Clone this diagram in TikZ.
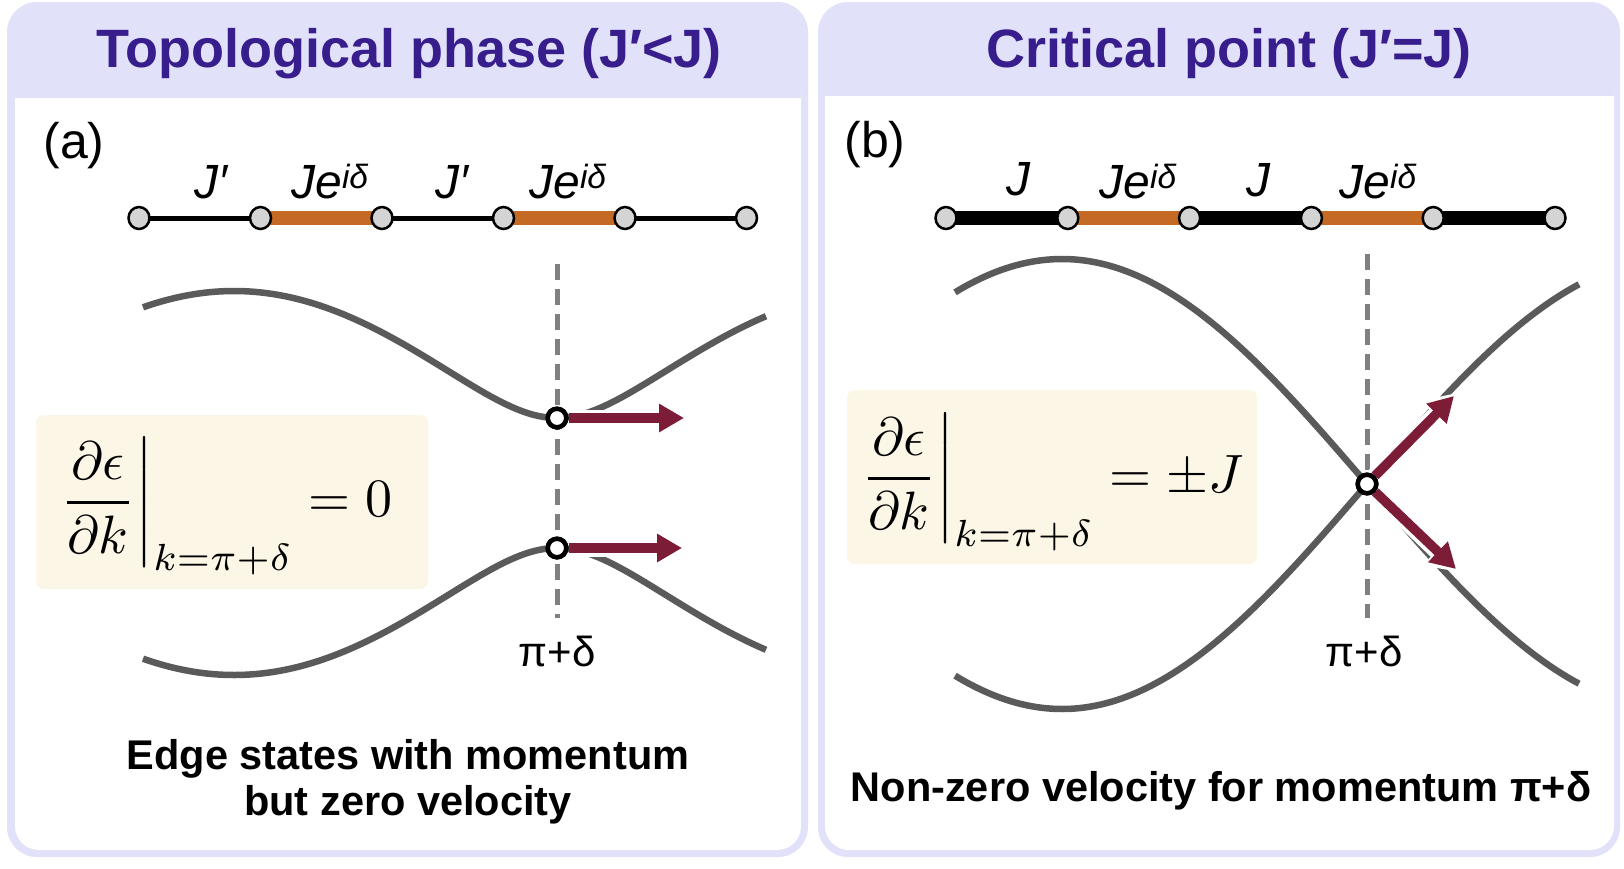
\documentclass[tikz,border=0pt]{standalone}
\usepackage{graphicx}
\usepackage[no-math]{fontspec}
\setmainfont{Liberation Sans}
\usetikzlibrary{arrows.meta,shapes.geometric}
\definecolor{lav}{RGB}{225,225,250}
\definecolor{titlec}{RGB}{55,30,140}
\definecolor{cream}{RGB}{251,246,230}
\definecolor{bondor}{RGB}{196,106,36}
\definecolor{arrred}{RGB}{125,28,55}
\definecolor{bandg}{RGB}{90,90,90}
\definecolor{dashg}{RGB}{128,128,128}
\definecolor{siteg}{RGB}{212,212,212}
\pgfdeclarelayer{panel}
\pgfdeclarelayer{bonds}
\pgfsetlayers{panel,bonds,main}
\begin{document}
\begin{tikzpicture}[x=1pt,y=-1pt,
  site/.style={ellipse, draw=black, line width=2.5pt, fill=siteg, minimum width=21pt, minimum height=22pt, inner sep=0pt},
  marker/.style={circle, draw=black, line width=4.5pt, fill=white, minimum size=18.5pt, inner sep=0pt},
  thinbond/.style={line width=5pt, black},
  thickbond/.style={line width=14pt, black},
  orbond/.style={line width=14pt, bondor},
  band/.style={line width=6.5pt, bandg},
  kline/.style={line width=5pt, dashg, dash pattern=on 16pt off 9pt},
  vel/.style={line width=9.5pt, arrred, -{Triangle[length=25pt,width=27pt]}},
  velwhite/.style={line width=17pt, white, -{Triangle[length=31pt,width=39pt]}},
  titletext/.style={font={\fontsize{54}{60}\selectfont\bfseries}, text=titlec, anchor=base, inner sep=0pt},
  panellab/.style={font={\fontsize{50}{56}\selectfont}, anchor=center, inner sep=0pt},
  hop/.style={font={\fontsize{48}{54}\selectfont\itshape}, anchor=base, inner sep=0pt},
  kmark/.style={font={\fontsize{42}{48}\selectfont}, anchor=base, inner sep=0pt},
  captext/.style={font={\fontsize{41.5}{46}\selectfont\bfseries}, anchor=base, inner sep=0pt},
  formbox/.style={fill=cream, rounded corners=8pt},
  formula/.style={anchor=base west, inner sep=0pt}
]
\useasboundingbox (0,0) rectangle (1624,868);

% ---------- panels ----------
\begin{pgfonlayer}{panel}
  \fill[white] (0,0) rectangle (1624,868);
  \fill[lav, rounded corners=30pt] (7,2) rectangle (808,857);
  \fill[white, rounded corners=24pt] (15,60) rectangle (801,850);
  \fill[lav] (15,59) rectangle (801,98);
  \fill[lav, rounded corners=30pt] (818,2) rectangle (1620,857);
  \fill[white, rounded corners=24pt] (825,60) rectangle (1614,850);
  \fill[lav] (825,59) rectangle (1614,96);
\end{pgfonlayer}

\node[titletext] (ta) at (409,67) {Topological phase (J′<J)};
\node[titletext] (tb) at (1229,67) {Critical point (J′=J)};

\node[panellab] (pa) at (74,146) {(a)};
\node[panellab] (pb) at (875,145) {(b)};

% ---------- chain (a) ----------
\foreach \i in {0,...,5} {
  \node[site] (a\i) at ({139+121.5*\i},218) {};
}
\begin{pgfonlayer}{bonds}
  \draw[thinbond] (a0.center) -- (a1.center);
  \draw[orbond] (a1.center) -- (a2.center);
  \draw[thinbond] (a2.center) -- (a3.center);
  \draw[orbond] (a3.center) -- (a4.center);
  \draw[thinbond] (a4.center) -- (a5.center);
\end{pgfonlayer}
\node[hop] (ha1) at (211,198) {J′};
\node[hop] (ha2) at (330,198) {Je\textsuperscript{iδ}};
\node[hop] (ha3) at (452,198) {J′};
\node[hop] (ha4) at (568,198) {Je\textsuperscript{iδ}};

% ---------- chain (b) ----------
\foreach \i in {0,...,5} {
  \node[site] (b\i) at ({946+121.8*\i},218) {};
}
\begin{pgfonlayer}{bonds}
  \draw[thickbond] (b0.center) -- (b1.center);
  \draw[orbond] (b1.center) -- (b2.center);
  \draw[thickbond] (b2.center) -- (b3.center);
  \draw[orbond] (b3.center) -- (b4.center);
  \draw[thickbond] (b4.center) -- (b5.center);
\end{pgfonlayer}
\node[hop] (hb1) at (1018,195) {J};
\node[hop] (hb2) at (1138,198) {Je\textsuperscript{iδ}};
\node[hop] (hb3) at (1258,196) {J};
\node[hop] (hb4) at (1378,198) {Je\textsuperscript{iδ}};

% ---------- formula boxes ----------
\fill[formbox] (36,415) rectangle (428,589);
\node[formula] (fa) at (54,516) {\scalebox{5.4}{$\displaystyle\left.\frac{\partial\epsilon}{\partial k}\right|_{k=\pi+\delta}=0$}};
\fill[formbox] (847,390) rectangle (1257,564);
\node[formula] (fb) at (855,492) {\scalebox{5.4}{$\displaystyle\left.\frac{\partial\epsilon}{\partial k}\right|_{k=\pi+\delta}=\pm J$}};

% ---------- bands (a) ----------
\draw[band] plot[domain=143:766, samples=150] (\x, {483 - 10*sqrt(205.44 - 163.19*cos((\x-557)*0.5573))});
\draw[band] plot[domain=143:766, samples=150] (\x, {483 + 10*sqrt(205.44 - 163.19*cos((\x-557)*0.5573))});
\coordinate (ka1) at (557,264);
\coordinate (ka2) at (557,618);
\draw[kline] (ka1) -- (ka2);

% ---------- bands (b) ----------
\draw[band] plot[domain=955:1579, samples=157] (\x, {484 - 225*abs(sin((\x-1367)*0.2951))});
\draw[band] plot[domain=955:1579, samples=157] (\x, {484 + 225*abs(sin((\x-1367)*0.2951))});
\coordinate (kb1) at (1367,254);
\coordinate (kb2) at (1367,618);
\draw[kline] (kb1) -- (kb2);

% ---------- markers and velocity arrows ----------
\node[marker] (ma1) at (557,418) {};
\node[marker] (ma2) at (557,548) {};
\coordinate (va1) at (684,418);
\coordinate (va2) at (682,548);
\coordinate (wa1) at (688,418);
\coordinate (wa2) at (686,548);
\draw[velwhite] (ma1) -- (wa1);
\draw[velwhite] (ma2) -- (wa2);
\draw[vel] (ma1) -- (va1);
\draw[vel] (ma2) -- (va2);
\node[marker] at (ma1.center) {};
\node[marker] at (ma2.center) {};

\node[marker] (mb) at (1367,484) {};
\coordinate (vb1) at (1454,396);
\coordinate (vb2) at (1456,569);
\coordinate (wb1) at (1457,393);
\coordinate (wb2) at (1459,572);
\draw[velwhite] (mb) -- (wb1);
\draw[velwhite] (mb) -- (wb2);
\draw[vel] (mb) -- (vb1);
\draw[vel] (mb) -- (vb2);
\node[marker] at (mb.center) {};

\node[kmark] (pka) at (557,666) {π+δ};
\node[kmark] (pkb) at (1364,666) {π+δ};

% ---------- captions ----------
\node[captext] (ca1) at (408,769) {Edge states with momentum};
\node[captext] (ca2) at (408,815) {but zero velocity};
\node[captext] (cb) at (1221,801) {Non-zero velocity for momentum π+δ};
\end{tikzpicture}
\end{document}
